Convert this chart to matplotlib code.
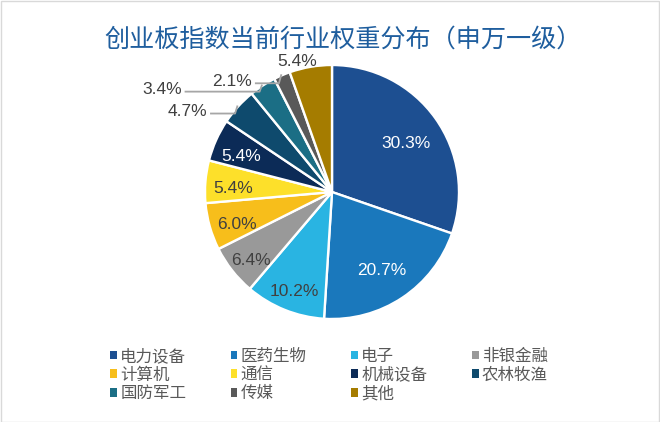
import numpy as np
import matplotlib
matplotlib.use("Agg")
import matplotlib.pyplot as plt
from matplotlib.patches import Patch, Rectangle

plt.rcParams['font.family'] = ['Noto Sans CJK SC', 'DejaVu Sans']

categories = ['电力设备', '医药生物', '电子', '非银金融', '计算机', '通信',
              '机械设备', '农林牧渔', '国防军工', '传媒', '其他']
values = [30.3, 20.7, 10.2, 6.4, 6.0, 5.4, 5.4, 4.7, 3.4, 2.1, 5.4]
colors = ['#1d4f91', '#1a78bc', '#29b4e2', '#999999', '#f7be1b', '#fde02a',
          '#0c2b57', '#0e4a6d', '#1b6e85', '#595959', '#a57c00']
title = '创业板指数当前行业权重分布（申万一级）'

W, H = 660, 422
fig = plt.figure(figsize=(W / 100, H / 100), dpi=100)
ax = fig.add_axes([0, 0, 1, 1])

cx, cy, R = 332, H - 192, 127
wedges, _ = ax.pie(values, colors=colors, startangle=90, counterclock=False,
                   center=(cx, cy), radius=R,
                   wedgeprops=dict(edgecolor='white', linewidth=1.7))
ax.set_xlim(0, W)
ax.set_ylim(0, H)
ax.set_aspect('equal')
ax.axis('off')

# label placement (fraction of radius) for inside labels; None = outside
label_r = [0.72, 0.70, 0.80, 0.81, 0.78, 0.78, 0.78, None, None, None, None]
white_txt = {0, 1, 6}
# offsets (pixels) of outside label anchor from wedge edge
outside_off = {7: (-31, -5), 8: (-81, -4), 9: (-30, -6), 10: (-13, 5)}
pct_fs = 12.5
lead_c = '#a6a6a6'

for i, (w, v) in enumerate(zip(wedges, values)):
    ang = np.deg2rad((w.theta1 + w.theta2) / 2)
    lab = f'{v:.1f}%'
    if label_r[i] is not None:
        r = label_r[i] * R
        ax.text(cx + r * np.cos(ang), cy + r * np.sin(ang) - 5, lab,
                ha='center', va='center', fontsize=pct_fs,
                family='Liberation Sans',
                color='white' if i in white_txt else '#404040')
    else:
        ex, ey = cx + R * np.cos(ang), cy + R * np.sin(ang)
        dx, dy = outside_off[i]
        tx, ty = ex + dx, ey + dy
        if i == 10:
            ax.text(tx, ty, lab, ha='center', va='center',
                    fontsize=pct_fs, family='Liberation Sans', color='#404040')
        else:
            ax.text(tx, ty, lab, ha='right', va='center', fontsize=pct_fs,
                    family='Liberation Sans', color='#404040')
            ly = ty - 2
            ax.plot([tx + 3, ex - 3, ex - 0.5], [ly, ly, ey + 1],
                    color=lead_c, lw=1.3, solid_capstyle='butt')

fig.text(343 / W, 1 - 40 / H, title, ha='center', va='center',
         fontsize=18.1, color='#1f5e9e')

# legend in row-major order
ncol = 4
nrow = int(np.ceil(len(categories) / ncol))
order = []
for c in range(ncol):
    for r in range(nrow):
        k = r * ncol + c
        if k < len(categories):
            order.append(k)
handles = [Patch(facecolor=colors[k], edgecolor='none') for k in order]
labels = [categories[k] for k in order]
fig.legend(handles, labels, ncol=ncol, loc='upper left',
           bbox_to_anchor=(110 / W, 1 - 348 / H), frameon=False,
           fontsize=11.9, handlelength=0.42, handleheight=0.42,
           handletextpad=0.2, columnspacing=2.68, labelspacing=0.1,
           borderpad=0, borderaxespad=0, labelcolor='#595959')

fig.patches.append(Rectangle((0.5 / W, 0.5 / H), 1 - 1.5 / W, 1 - 1.5 / H,
                             transform=fig.transFigure, fill=False,
                             edgecolor='#d9d9d9', lw=1))

fig.savefig('out.png', dpi=100)
